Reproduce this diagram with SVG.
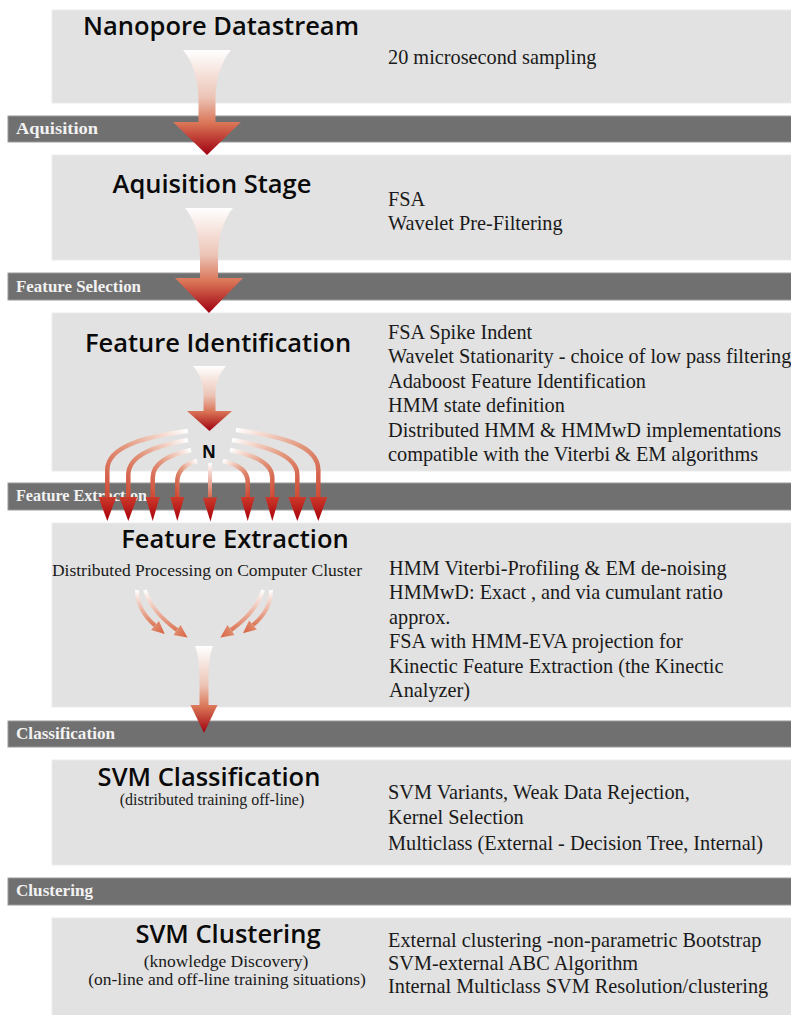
<svg xmlns="http://www.w3.org/2000/svg" width="791" height="1015" viewBox="0 0 791 1015">
<style>
.panel{fill:#e2e2e2;stroke:#ebebeb;stroke-width:1}
.band{fill:#707070;stroke:#9a9a9a;stroke-width:1}
.title{font-family:"Open Sans","Liberation Sans",sans-serif;font-weight:600;font-size:25.5px;fill:#0a0a0a;text-anchor:middle}
.sub{font-family:"Liberation Serif",serif;font-size:17.5px;fill:#1a1a1a;text-anchor:middle}
.body{font-family:"Liberation Serif",serif;font-size:20.3px;fill:#1a1a1a}
.blabel{font-family:"Liberation Serif",serif;font-size:17.5px;font-weight:bold;fill:#f2f2f2}
.n{font-family:"Open Sans","Liberation Sans",sans-serif;font-weight:700;font-size:17px;fill:#0a0a0a;text-anchor:middle}
.fanL{fill:none;stroke:url(#gFanL);stroke-width:4.5}
.fanR{fill:none;stroke:url(#gFanR);stroke-width:4.5}
.fe{fill:none;stroke:url(#gFe);stroke-width:4}
</style>
<defs>
<linearGradient id="gBig" x1="0" y1="0" x2="0" y2="1">
<stop offset="0" stop-color="#ffffff"/>
<stop offset="0.45" stop-color="#ecc4b6"/>
<stop offset="0.7" stop-color="#da7456"/>
<stop offset="1" stop-color="#a00010"/>
</linearGradient>
<linearGradient id="gFanL" x1="1" y1="0" x2="0" y2="1">
<stop offset="0" stop-color="#ffffff"/>
<stop offset="0.5" stop-color="#e39a80"/>
<stop offset="1" stop-color="#cf4a34"/>
</linearGradient>
<linearGradient id="gFanR" x1="0" y1="0" x2="1" y2="1">
<stop offset="0" stop-color="#ffffff"/>
<stop offset="0.5" stop-color="#e39a80"/>
<stop offset="1" stop-color="#cf4a34"/>
</linearGradient>
<linearGradient id="gFanC" x1="0" y1="0" x2="0" y2="1">
<stop offset="0" stop-color="#ffffff"/>
<stop offset="1" stop-color="#d86a50"/>
</linearGradient>
<linearGradient id="gFe" x1="0" y1="0" x2="0" y2="1">
<stop offset="0" stop-color="#ffffff"/>
<stop offset="1" stop-color="#dc7858"/>
</linearGradient>
<linearGradient id="gHead" x1="0" y1="0" x2="1" y2="0">
<stop offset="0" stop-color="#cc3a2a"/>
<stop offset="1" stop-color="#a8000c"/>
</linearGradient>
<linearGradient id="gHeadS" x1="0" y1="0" x2="1" y2="0">
<stop offset="0" stop-color="#e08a6c"/>
<stop offset="1" stop-color="#d6603f"/>
</linearGradient>
<marker id="headBig" markerUnits="userSpaceOnUse" markerWidth="30" markerHeight="30" refX="0" refY="10" orient="auto" overflow="visible">
<path d="M0,1 L24,10 L0,19 Z" fill="url(#gHead)"/>
</marker>
<marker id="headMid" markerUnits="userSpaceOnUse" markerWidth="30" markerHeight="30" refX="0" refY="10" orient="auto" overflow="visible">
<path d="M0,3 L24,10 L0,17 Z" fill="url(#gHead)"/>
</marker>
<marker id="headSmall" markerUnits="userSpaceOnUse" markerWidth="20" markerHeight="20" refX="0" refY="7" orient="auto" overflow="visible">
<path d="M0,1 L13,7 L0,13 Z" fill="url(#gHeadS)"/>
</marker>
</defs>
<rect width="791" height="1015" fill="#ffffff"/>

<g id="bands">
<rect class="band" x="8" y="116" width="790" height="26"/>
<rect class="band" x="8" y="273" width="790" height="27"/>
<rect class="band" x="8" y="483" width="790" height="27"/>
<rect class="band" x="8" y="721" width="790" height="26"/>
<rect class="band" x="8" y="878" width="790" height="27"/>
<text class="blabel" x="16" y="134" textLength="82" lengthAdjust="spacingAndGlyphs">Aquisition</text>
<text class="blabel" x="16" y="292" textLength="125" lengthAdjust="spacingAndGlyphs">Feature Selection</text>
<text class="blabel" x="16" y="501" textLength="131" lengthAdjust="spacingAndGlyphs">Feature Extraction</text>
<text class="blabel" x="16" y="739" textLength="99" lengthAdjust="spacingAndGlyphs">Classification</text>
<text class="blabel" x="16" y="896" textLength="77" lengthAdjust="spacingAndGlyphs">Clustering</text>
</g>

<g id="node-nanopore">
<rect class="panel" x="52" y="10" width="745" height="93"/>
<text class="title" x="221" y="35">Nanopore Datastream</text>
<text class="body" x="388" y="64">20 microsecond sampling</text>
</g>

<g id="node-aquisition">
<rect class="panel" x="52" y="155" width="745" height="105"/>
<text class="title" x="212" y="193">Aquisition Stage</text>
<text class="body" x="388" y="206">FSA</text>
<text class="body" x="388" y="230">Wavelet Pre-Filtering</text>
</g>

<g id="node-feature-identification">
<rect class="panel" x="52" y="313" width="745" height="158"/>
<text class="title" x="218" y="352">Feature Identification</text>
<text class="body" x="388" y="339">FSA Spike Indent</text>
<text class="body" x="388" y="363">Wavelet Stationarity - choice of low pass filtering</text>
<text class="body" x="388" y="388">Adaboost Feature Identification</text>
<text class="body" x="388" y="412">HMM state definition</text>
<text class="body" x="388" y="437">Distributed HMM &amp; HMMwD implementations</text>
<text class="body" x="388" y="461">compatible with the Viterbi &amp; EM algorithms</text>
</g>

<g id="node-feature-extraction">
<rect class="panel" x="52" y="523" width="745" height="184"/>
<text class="title" x="235" y="548">Feature Extraction</text>
<text class="sub" x="207" y="576">Distributed Processing on Computer Cluster</text>
<text class="body" x="389" y="575">HMM Viterbi-Profiling &amp; EM de-noising</text>
<text class="body" x="389" y="599">HMMwD: Exact , and via cumulant ratio</text>
<text class="body" x="389" y="624">approx.</text>
<text class="body" x="389" y="648">FSA with HMM-EVA projection for</text>
<text class="body" x="389" y="673">Kinectic Feature Extraction (the Kinectic</text>
<text class="body" x="389" y="697">Analyzer)</text>
</g>

<g id="node-svm-classification">
<rect class="panel" x="52" y="760" width="745" height="105"/>
<text class="title" x="209" y="786">SVM Classification</text>
<text class="sub" x="212" y="805" style="font-size:16px">(distributed training off-line)</text>
<text class="body" x="388" y="799">SVM Variants, Weak Data Rejection,</text>
<text class="body" x="388" y="824">Kernel Selection</text>
<text class="body" x="388" y="850">Multiclass (External - Decision Tree, Internal)</text>
</g>

<g id="node-svm-clustering">
<rect class="panel" x="52" y="918" width="745" height="100"/>
<text class="title" x="228" y="943">SVM Clustering</text>
<text class="sub" x="226" y="967">(knowledge Discovery)</text>
<text class="sub" x="227" y="985">(on-line and off-line training situations)</text>
<text class="body" x="388" y="947">External clustering -non-parametric Bootstrap</text>
<text class="body" x="388" y="970">SVM-external ABC Algorithm</text>
<text class="body" x="388" y="993">Internal Multiclass SVM Resolution/clustering</text>
</g>

<g id="node-N">
<text class="n" x="209" y="458">N</text>
</g>

<g id="connectors">
<path fill="url(#gBig)" d="M183,50 H231 C221,62 215.5,80 215.5,100 V122 H241 L207,155 L173,122 H198.5 V100 C198.5,80 193,62 183,50 Z"/>
<path fill="url(#gBig)" d="M185,208 H233 C223,220 218,238 218,258 V278 H243 L209,313 L175,278 H200 V258 C200,238 195,220 185,208 Z"/>
<path fill="url(#gBig)" d="M193,366 H226 C219,374 215.5,384 215.5,394 V411 H232 L209.5,431 L187,411 H203.5 V394 C203.5,384 200,374 193,366 Z"/>
<path fill="url(#gBig)" d="M195,646 H213 C209,656 208.5,668 208.5,680 V705 H217.5 L204,733 L190.5,705 H199.5 V680 C199.5,668 199,656 195,646 Z"/>

<path class="fanL" d="M188,431 C150,436 107.3,445 107.3,470 V497" marker-end="url(#headBig)"/>
<path class="fanL" d="M188,440 C155,446 128.3,455 128.3,475 V497" marker-end="url(#headBig)"/>
<path class="fanL" d="M191,450 C170,455 152.7,462 152.7,478 V497" marker-end="url(#headMid)"/>
<path class="fanL" d="M197,461 C185,464 177.3,470 177.3,482 V497" marker-end="url(#headMid)"/>
<rect x="208" y="463" width="4" height="34" fill="url(#gFanC)"/>
<path d="M210,497 L210.01,497.5" fill="none" stroke="none" marker-end="url(#headMid)"/>
<path class="fanR" d="M223,461 C236,464 247.7,470 247.7,482 V497" marker-end="url(#headMid)"/>
<path class="fanR" d="M230,450 C252,455 272.3,462 272.3,478 V497" marker-end="url(#headMid)"/>
<path class="fanR" d="M232,440 C266,446 297.3,455 297.3,475 V497" marker-end="url(#headBig)"/>
<path class="fanR" d="M236,430 C280,436 318.3,445 318.3,470 V497" marker-end="url(#headBig)"/>

<path class="fe" d="M137,590 C137,603 143,615 155,625.5" marker-end="url(#headSmall)"/>
<path class="fe" d="M145,590 C150,606 163,620 177,630" marker-end="url(#headSmall)"/>
<path class="fe" d="M263,590 C258,606 245,620 231,630" marker-end="url(#headSmall)"/>
<path class="fe" d="M271,590 C271,603 265,615 253,625" marker-end="url(#headSmall)"/>
</g>
</svg>
